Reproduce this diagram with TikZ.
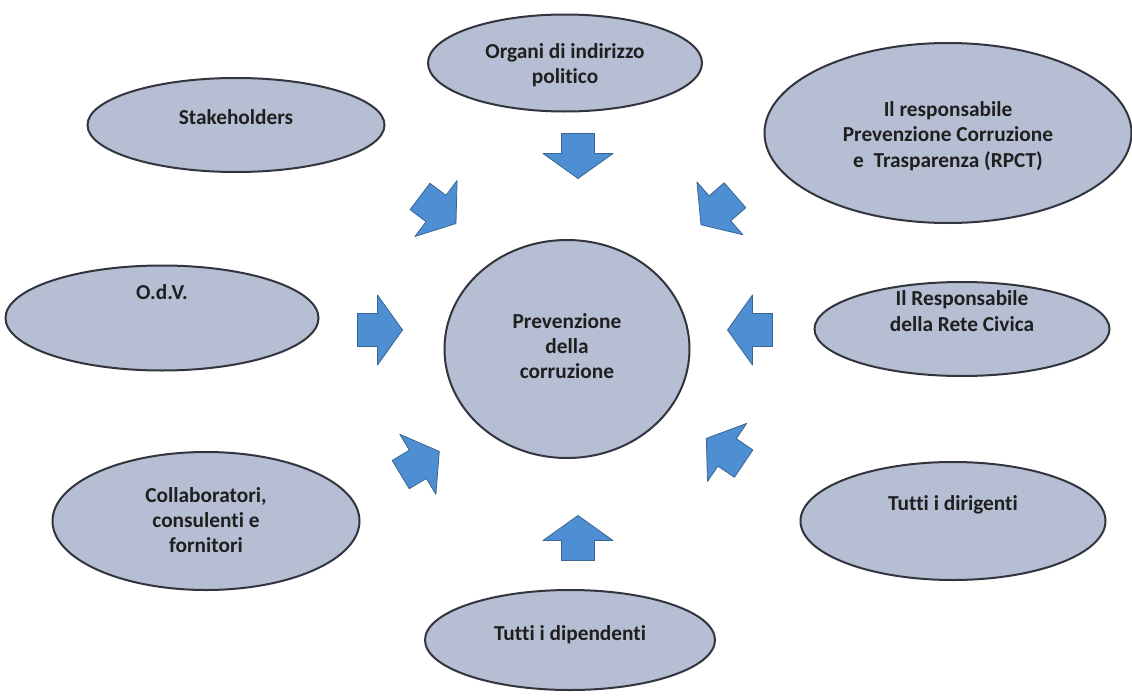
\documentclass[tikz,border=0pt]{standalone}
\usepackage{fontspec}
\setmainfont{Carlito}[Ligatures=NoCommon]
\usetikzlibrary{shapes.geometric}
\definecolor{ovalfill}{RGB}{181,190,211}
\definecolor{ovalline}{RGB}{50,52,62}
\definecolor{arrfill}{RGB}{78,143,212}
\definecolor{arrline}{RGB}{58,100,145}

\begin{document}
\begin{tikzpicture}[x=0.75pt, y=-0.75pt,
  oval/.style 2 args={ellipse, draw=ovalline, fill=ovalfill, line width=1.5pt, inner sep=0, minimum width=#1*0.75pt, minimum height=#2*0.75pt},
  txt/.style={align=center, font=\fontsize{16}{19}\selectfont\bfseries, text=black!88},
  blockarr/.pic={\draw[fill=arrfill, draw=arrline, line width=0.6pt, line join=round] (-22.5,-16.5) -- (-2.5,-16.5) -- (-2.5,-35) -- (22.5,0) -- (-2.5,35) -- (-2.5,16.5) -- (-22.5,16.5) -- cycle;}]
\useasboundingbox (0,0) rectangle (1132,696);

\node[oval={274}{97}] (org) at (565,63) {};
\node[oval={367}{180}] (rpct) at (948,133) {};
\node[oval={297}{94}] (stk) at (236,125) {};
\node[oval={313}{105}] (odv) at (162,318) {};
\node[oval={245}{218}] (core) at (567,349) {};
\node[oval={295}{94}] (rete) at (962,329) {};
\node[oval={307}{138}] (coll) at (206,521) {};
\node[oval={305}{118}] (dir) at (953,521) {};
\node[oval={290}{100}] (dip) at (570,640) {};

\node[txt] (orgT) at (565,65) {Organi di indirizzo\\politico};
\node[txt] (rpctT) at (948,136) {Il responsabile\\Prevenzione Corruzione\\e\ \ Trasparenza (RPCT)};
\node[txt] (stkT) at (236,117) {Stakeholders};
\node[txt] (odvT) at (162,292) {O.d.V.};
\node[txt] (coreT) at (567,346) {Prevenzione\\della\\corruzione};
\node[txt] (reteT) at (962,311) {Il Responsabile\\della Rete Civica};
\node[txt] (collT) at (206,520) {Collaboratori,\\consulenti e\\fornitori};
\node[txt] (dirT) at (953,505) {Tutti i dirigenti};
\node[txt] (dipT) at (570,635) {Tutti i dipendenti};

\foreach \n/\x/\y/\a in {aN/578/156/-90, aNE/718/210/-139, aE/750/330/180, aSE/725/451/146,
  aS/578/538/90, aSW/420/463/31, aW/380/330/0, aNW/438/210/-37}
  \pic[rotate=\a] (\n) at (\x,\y) {blockarr};
\end{tikzpicture}
\end{document}
